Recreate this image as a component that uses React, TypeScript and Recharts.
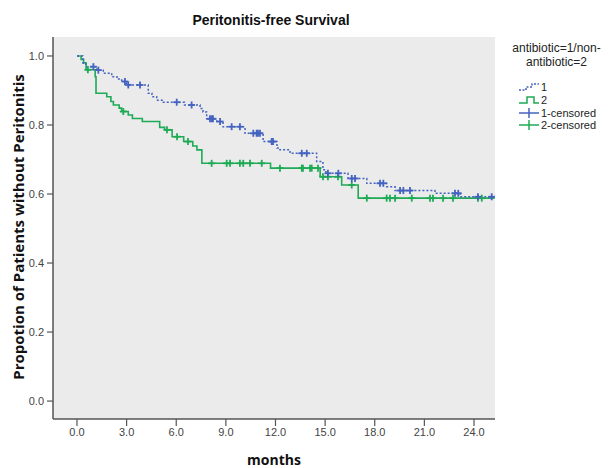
import React from "react";
import { ComposedChart, Line, Scatter, XAxis, YAxis, CartesianGrid } from "recharts";

// Group 1 (antibiotic) – event times (months) and survival after each step
const blueTimes = [0, 0.36, 0.54, 1.2, 1.59, 2.1, 2.42, 2.7, 3.0, 4.31, 4.53, 4.82, 5.22, 6.5, 7.44, 7.62, 7.84, 8.45, 8.83, 10.16, 11.25, 12.09, 12.27, 12.88, 14.49, 14.87, 15.05, 16.38, 17.52, 18.72, 19.23, 21.64, 23.16, 25.25];
const blueSurv = [1.0, 0.98, 0.969, 0.959, 0.95, 0.94, 0.933, 0.926, 0.916, 0.892, 0.882, 0.872, 0.866, 0.858, 0.848, 0.838, 0.818, 0.81, 0.795, 0.776, 0.752, 0.733, 0.728, 0.718, 0.694, 0.67, 0.66, 0.645, 0.631, 0.621, 0.61, 0.602, 0.592, 0.592];
const blueCensored = [0.99, 1.29, 2.9, 3.1, 3.81, 6.03, 6.93, 8.04, 8.14, 8.22, 8.65, 9.35, 9.85, 10.66, 10.86, 10.94, 11.06, 11.77, 11.85, 13.59, 13.89, 15.17, 15.8, 16.61, 16.81, 18.32, 18.52, 19.53, 19.73, 20.13, 22.85, 23.05, 24.24, 25.07];

// Group 2 (non-antibiotic)
const greenTimes = [0, 0.25, 0.4, 0.55, 1.1, 1.15, 1.8, 2.05, 2.2, 2.55, 2.7, 3.1, 3.35, 3.95, 5.0, 5.3, 5.75, 6.45, 7.0, 7.25, 7.55, 11.7, 14.7, 16.0, 17.0, 25.25];
const greenSurv = [1.0, 0.99, 0.98, 0.96, 0.94, 0.892, 0.882, 0.868, 0.858, 0.849, 0.839, 0.829, 0.819, 0.81, 0.793, 0.786, 0.766, 0.752, 0.739, 0.728, 0.689, 0.675, 0.65, 0.626, 0.588, 0.588];
const greenCensored = [0.66, 2.8, 5.44, 6.05, 6.71, 8.14, 9.05, 9.25, 9.85, 10.05, 10.46, 11.17, 12.27, 13.59, 13.66, 14.09, 14.19, 14.57, 14.87, 15.17, 15.78, 16.61, 17.52, 18.72, 18.92, 19.23, 20.24, 21.34, 21.52, 22.13, 22.73, 24.24, 24.47];

const xTicks = [0, 3, 6, 9, 12, 15, 18, 21, 24];
const yTicks = [0, 0.2, 0.4, 0.6, 0.8, 1.0];

const BLUE = "#4462c0";
const GREEN = "#1faa55";
const FRAME = "#555";
const FONT = "'Liberation Sans', Arial, sans-serif";
const LABEL_FONT = "'Open Sans', 'Liberation Sans', sans-serif";

function toSteps(times: number[], surv: number[]) {
  return times.map((t, i) => ({ t, s: surv[i] }));
}
function toCensored(cens: number[], times: number[], surv: number[]) {
  return cens.map((c) => {
    let s = surv[0];
    for (let i = 0; i < times.length; i++) if (times[i] <= c) s = surv[i];
    return { t: c, s };
  });
}

const blueData = toSteps(blueTimes, blueSurv);
const greenData = toSteps(greenTimes, greenSurv);
const blueCens = toCensored(blueCensored, blueTimes, blueSurv);
const greenCens = toCensored(greenCensored, greenTimes, greenSurv);

const makeCross = (color: string) => (props: any) => {
  const { cx, cy } = props;
  if (cx == null || cy == null) return <g />;
  return (
    <g>
      <line x1={cx - 3.5} x2={cx + 3.5} y1={cy} y2={cy} stroke={color} strokeWidth={1.8} />
      <line x1={cx} x2={cx} y1={cy - 3.5} y2={cy + 3.5} stroke={color} strokeWidth={1.8} />
    </g>
  );
};

const tickStyle = { fontSize: 11, fill: "#444", fontFamily: FONT };

const LegendIcon = ({ kind }: { kind: string }) => {
  if (kind === "1")
    return (
      <svg width={22} height={10}>
        <polyline points="1,8 8,8 8,5 14,5 14,2 21,2" fill="none" stroke={BLUE} strokeWidth={1.5} strokeDasharray="2 1.5" />
      </svg>
    );
  if (kind === "2")
    return (
      <svg width={22} height={10}>
        <polyline points="1,8 9,8 9,2 16,2 16,8 21,8" fill="none" stroke={GREEN} strokeWidth={1.5} />
      </svg>
    );
  const c = kind === "1c" ? BLUE : GREEN;
  return (
    <svg width={22} height={10}>
      <line x1={1} x2={21} y1={5} y2={5} stroke={c} strokeWidth={1.5} />
      <line x1={11} x2={11} y1={0} y2={10} stroke={c} strokeWidth={1.5} />
    </svg>
  );
};

const legendItems = [
  { kind: "1", label: "1" },
  { kind: "2", label: "2" },
  { kind: "1c", label: "1-censored" },
  { kind: "2c", label: "2-censored" },
];

export default function App() {
  return (
    <div style={{ position: "absolute", left: 0, top: 0, width: 613, height: 468, background: "#fff", fontFamily: FONT }}>
      <ComposedChart width={613} height={468} margin={{ top: 37, right: 118, bottom: 0, left: 0 }}>
        <CartesianGrid fill="#ebebeb" horizontal={false} vertical={false} />
        <XAxis
          dataKey="t"
          type="number"
          domain={[-1.45, 25.27]}
          allowDataOverflow
          ticks={xTicks}
          tickFormatter={(v: number) => v.toFixed(1)}
          height={49}
          tick={tickStyle}
          tickSize={7}
          tickMargin={2}
          axisLine={{ stroke: FRAME, strokeWidth: 1.5 }}
          tickLine={{ stroke: FRAME, strokeWidth: 1.2 }}
          label={{ value: "months", position: "insideBottom", offset: 3, style: { fontSize: 14, fontWeight: "bold", fill: "#111", fontFamily: LABEL_FONT } }}
        />
        <XAxis xAxisId="top" orientation="top" type="number" domain={[-1.45, 25.27]} height={0} tick={false} tickLine={false} axisLine={{ stroke: FRAME, strokeWidth: 1.5 }} />
        <YAxis
          dataKey="s"
          type="number"
          domain={[-0.052, 1.055]}
          allowDataOverflow
          ticks={yTicks}
          tickFormatter={(v: number) => v.toFixed(1)}
          width={53}
          tick={tickStyle}
          tickSize={6}
          tickMargin={3}
          axisLine={{ stroke: FRAME, strokeWidth: 1.5 }}
          tickLine={{ stroke: FRAME, strokeWidth: 1.2 }}
        />
        <YAxis yAxisId="right" orientation="right" type="number" domain={[-0.052, 1.055]} width={0} tick={false} tickLine={false} axisLine={{ stroke: FRAME, strokeWidth: 1.5 }} />
        <Line data={greenData} dataKey="s" type="stepAfter" stroke={GREEN} strokeWidth={1.6} dot={false} isAnimationActive={false} />
        <Line data={blueData} dataKey="s" type="stepAfter" stroke={BLUE} strokeWidth={1.5} strokeDasharray="2 2" dot={false} isAnimationActive={false} />
        <Scatter data={greenCens} dataKey="s" shape={makeCross(GREEN)} isAnimationActive={false} />
        <Scatter data={blueCens} dataKey="s" shape={makeCross(BLUE)} isAnimationActive={false} />
      </ComposedChart>
      <div style={{ position: "absolute", left: 0, top: 12, width: 542, textAlign: "center", fontSize: 14, fontWeight: "bold", color: "#111" }}>
        Peritonitis-free Survival
      </div>
      <div
        style={{
          position: "absolute",
          left: 18,
          top: 227,
          transform: "translate(-50%, -50%) rotate(-90deg)",
          whiteSpace: "nowrap",
          fontSize: 15,
          fontWeight: "bold",
          color: "#111",
          fontFamily: LABEL_FONT,
        }}
      >
        Propotion of Patients without Peritonitis
      </div>
      <div style={{ position: "absolute", left: 500, top: 41, width: 113, color: "#222" }}>
        <div style={{ textAlign: "center", fontSize: 12, lineHeight: "14px" }}>
          antibiotic=1/non-
          <br />
          antibiotic=2
        </div>
        <div style={{ marginTop: 12, marginLeft: 18 }}>
          {legendItems.map((it) => (
            <div key={it.kind} style={{ display: "flex", alignItems: "center", height: 12.7, fontSize: 11 }}>
              <LegendIcon kind={it.kind} />
              <span style={{ marginLeft: 1 }}>{it.label}</span>
            </div>
          ))}
        </div>
      </div>
    </div>
  );
}
